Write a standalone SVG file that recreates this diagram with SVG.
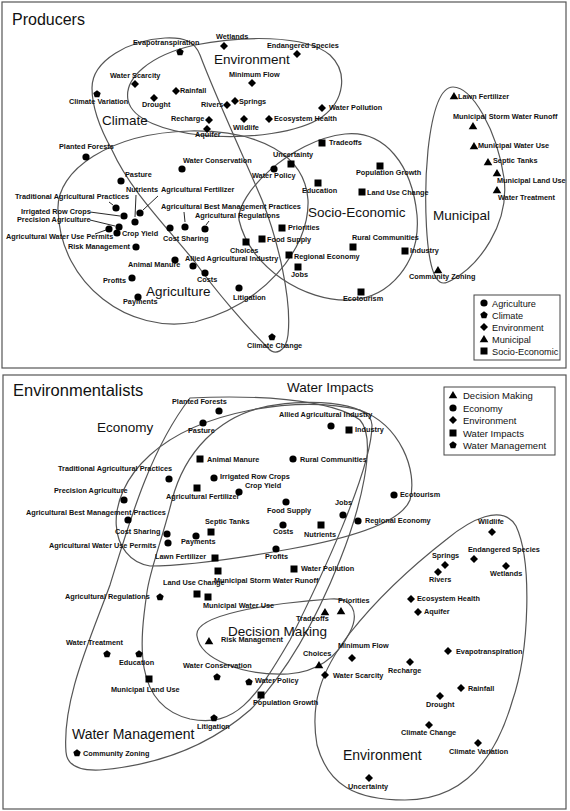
<svg xmlns="http://www.w3.org/2000/svg" xmlns:xlink="http://www.w3.org/1999/xlink" width="570" height="811" viewBox="0 0 570 811">
<style>
.lb{font-family:"Liberation Sans",Arial,sans-serif;font-size:7.3px;font-weight:bold;fill:#111}
.big{font-family:"Liberation Sans",Arial,sans-serif;font-size:13.5px;fill:#111}
.ttl{font-family:"Liberation Sans",Arial,sans-serif;font-size:16px;fill:#111}
.lg{font-family:"Liberation Sans",Arial,sans-serif;font-size:9.2px;fill:#111}
.cv{fill:none;stroke:#555;stroke-width:1.2}
.ld{stroke:#111;stroke-width:0.9}
.fr{fill:#fff;stroke:#555;stroke-width:1.2}
.mk{fill:#000}
</style>
<defs>
<circle id="c" class="mk" r="3.6"/>
<rect id="s" class="mk" x="-3.5" y="-3.5" width="7" height="7"/>
<polygon id="d" class="mk" points="0,-4 4,0 0,4 -4,0"/>
<polygon id="t" class="mk" points="0,-4 4.3,3.3 -4.3,3.3"/>
<polygon id="p" class="mk" points="0,-3.8 3.7,-1.1 2.3,3.2 -2.3,3.2 -3.7,-1.1"/>
</defs>
<rect x="0" y="0" width="570" height="811" fill="#fff"/>
<rect class="fr" x="2" y="2" width="564" height="366"/>
<rect class="fr" x="3" y="375" width="563" height="434"/>

<!-- ===== PRODUCERS ===== -->
<text class="ttl" x="12" y="25">Producers</text>
<g id="pr-outlines">
<path class="cv" d="M128,100 C124,78 150,55 195,45 C240,36 305,34 330,55 C348,72 345,100 322,117 C300,132 250,140 200,135 C165,131 132,120 128,100 Z"/>
<path class="cv" d="M92,88 C92,60 130,40 165,38 C185,37 195,42 200,55 C215,95 245,160 262,200 C278,240 292,300 288,335 C286,352 275,356 268,348 C245,325 215,290 195,262 C165,225 130,190 112,150 C98,125 92,105 92,88 Z"/>
<path class="cv" d="M58,210 C56,170 110,133 190,131 C260,130 305,155 308,200 C310,250 262,305 195,322 C130,335 60,285 58,210 Z"/>
<path class="cv" d="M239,220 C236,195 290,140 345,134 C385,130 412,165 417,215 C421,262 390,298 350,300 C305,302 250,268 239,220 Z"/>
<path class="cv" d="M440,282 C424,272 424,190 428,150 C433,105 442,87 453,87 C472,87 497,130 504,178 C510,225 478,266 452,280 C447,283 443,284 440,282 Z"/>
</g>
<g id="pr-connectors">
<line class="ld" x1="136" y1="195" x2="135" y2="217"/>
<line class="ld" x1="158" y1="196" x2="143" y2="210"/>
<line class="ld" x1="184" y1="212" x2="185" y2="222"/>
<line class="ld" x1="209" y1="221" x2="206" y2="225"/>
<line class="ld" x1="109" y1="202" x2="113" y2="205"/>
<line class="ld" x1="90" y1="212" x2="120" y2="216"/>
<line class="ld" x1="90" y1="220" x2="115" y2="226"/>
<line class="ld" x1="95" y1="234" x2="106" y2="230"/>
</g>
<text class="big" x="214" y="64">Environment</text>
<text class="big" x="102" y="125">Climate</text>
<text class="big" x="146" y="296">Agriculture</text>
<text class="big" x="308" y="217">Socio-Economic</text>
<text class="big" x="433" y="220">Municipal</text>

<g id="pr-evapotranspiration"><use xlink:href="#p" x="180" y="52"/><text class="lb" x="133" y="45">Evapotranspiration</text></g>
<g id="pr-wetlands"><use xlink:href="#d" x="224" y="46"/><text class="lb" x="216" y="39">Wetlands</text></g>
<g id="pr-endangered"><use xlink:href="#d" x="297" y="54"/><text class="lb" x="267" y="48">Endangered Species</text></g>
<g id="pr-waterscarcity"><use xlink:href="#d" x="135" y="84"/><text class="lb" x="110" y="78">Water Scarcity</text></g>
<g id="pr-climatevariation"><use xlink:href="#p" x="97" y="94"/><text class="lb" x="69" y="104">Climate Variation</text></g>
<g id="pr-rainfall"><use xlink:href="#d" x="176" y="91"/><text class="lb" x="180" y="93">Rainfall</text></g>
<g id="pr-drought"><use xlink:href="#d" x="154" y="98"/><text class="lb" x="142" y="107">Drought</text></g>
<g id="pr-minimumflow"><use xlink:href="#d" x="252" y="83"/><text class="lb" x="229" y="77">Minimum Flow</text></g>
<g id="pr-rivers"><use xlink:href="#d" x="227" y="105"/><text class="lb" x="201" y="107">Rivers</text></g>
<g id="pr-springs"><use xlink:href="#d" x="235" y="101"/><text class="lb" x="239" y="104">Springs</text></g>
<g id="pr-recharge"><use xlink:href="#d" x="209" y="120"/><text class="lb" x="171" y="121">Recharge</text></g>
<g id="pr-aquifer"><use xlink:href="#d" x="207" y="129"/><text class="lb" x="195" y="137">Aquifer</text></g>
<g id="pr-wildlife"><use xlink:href="#d" x="244" y="119"/><text class="lb" x="233" y="130">Wildlife</text></g>
<g id="pr-ecosystem"><use xlink:href="#d" x="269" y="119"/><text class="lb" x="274" y="121">Ecosystem Health</text></g>
<g id="pr-waterpollution"><use xlink:href="#d" x="322" y="108"/><text class="lb" x="329" y="110">Water Pollution</text></g>
<g id="pr-tradeoffs"><use xlink:href="#s" x="322" y="143"/><text class="lb" x="329" y="145">Tradeoffs</text></g>
<g id="pr-uncertainty"><use xlink:href="#s" x="291" y="164"/><text class="lb" x="273" y="157">Uncertainty</text></g>
<g id="pr-waterpolicy"><use xlink:href="#c" x="274" y="169"/><text class="lb" x="252" y="178">Water Policy</text></g>
<g id="pr-waterconservation"><use xlink:href="#c" x="182" y="169"/><text class="lb" x="183" y="163">Water Conservation</text></g>
<g id="pr-plantedforests"><use xlink:href="#c" x="86" y="157"/><text class="lb" x="59" y="149">Planted Forests</text></g>
<g id="pr-pasture"><use xlink:href="#c" x="121" y="181"/><text class="lb" x="125" y="177">Pasture</text></g>
<g id="pr-populationgrowth"><use xlink:href="#s" x="380" y="166"/><text class="lb" x="356" y="175">Population Growth</text></g>
<g id="pr-education"><use xlink:href="#s" x="318" y="183"/><text class="lb" x="302" y="193">Education</text></g>
<g id="pr-landusechange"><use xlink:href="#s" x="362" y="192"/><text class="lb" x="367" y="195">Land Use Change</text></g>
<g id="pr-lawnfertilizer"><use xlink:href="#t" x="454" y="96"/><text class="lb" x="458" y="99">Lawn Fertilizer</text></g>
<g id="pr-mswr"><use xlink:href="#t" x="473" y="126"/><text class="lb" x="453" y="119">Municipal Storm  Water Runoff</text></g>
<g id="pr-municipalwateruse"><use xlink:href="#t" x="474" y="146"/><text class="lb" x="478" y="148">Municipal Water Use</text></g>
<g id="pr-septictanks"><use xlink:href="#t" x="488" y="162"/><text class="lb" x="493" y="163">Septic Tanks</text></g>
<g id="pr-municipallanduse"><use xlink:href="#t" x="497" y="173"/><text class="lb" x="497" y="183">Municipal Land Use</text></g>
<g id="pr-watertreatment"><use xlink:href="#t" x="497" y="190"/><text class="lb" x="498" y="200">Water Treatment</text></g>
<g id="pr-nutrients"><use xlink:href="#c" x="135" y="222"/><text class="lb" x="126" y="192">Nutrients</text></g>
<g id="pr-agfertilizer"><use xlink:href="#c" x="140" y="213"/><text class="lb" x="161" y="192">Agricultural Fertilizer</text></g>
<g id="pr-abmp"><use xlink:href="#c" x="185" y="227"/><text class="lb" x="161" y="209">Agricultural Best Management Practices</text></g>
<g id="pr-agregulations"><use xlink:href="#c" x="205" y="229"/><text class="lb" x="195" y="218">Agricultural Regulations</text></g>
<g id="pr-tradag"><use xlink:href="#c" x="116" y="208"/><text class="lb" x="15" y="199">Traditional Agricultural Practices</text></g>
<g id="pr-irrigated"><use xlink:href="#c" x="124" y="216"/><text class="lb" x="21" y="214">Irrigated Row Crops</text></g>
<g id="pr-precision"><use xlink:href="#c" x="119" y="227"/><text class="lb" x="17" y="222">Precision Agriculture</text></g>
<g id="pr-awup"><use xlink:href="#c" x="109" y="229"/><text class="lb" x="6" y="239">Agricultural Water Use Permits</text></g>
<g id="pr-cropyield"><use xlink:href="#c" x="117" y="233"/><text class="lb" x="122" y="236">Crop Yield</text></g>
<g id="pr-riskmanagement"><use xlink:href="#c" x="136" y="247"/><text class="lb" x="68" y="249">Risk Management</text></g>
<g id="pr-costsharing"><use xlink:href="#c" x="170" y="228"/><text class="lb" x="163" y="241">Cost Sharing</text></g>
<g id="pr-animalmanure"><use xlink:href="#c" x="175" y="260"/><text class="lb" x="128" y="267">Animal Manure</text></g>
<g id="pr-profits"><use xlink:href="#c" x="132" y="278"/><text class="lb" x="103" y="283">Profits</text></g>
<g id="pr-payments"><use xlink:href="#c" x="138" y="297"/><text class="lb" x="123" y="304">Payments</text></g>
<g id="pr-priorities"><use xlink:href="#s" x="282" y="228"/><text class="lb" x="288" y="230">Priorities</text></g>
<g id="pr-foodsupply"><use xlink:href="#s" x="262" y="239"/><text class="lb" x="267" y="242">Food Supply</text></g>
<g id="pr-choices"><use xlink:href="#s" x="246" y="242"/><text class="lb" x="230" y="253">Choices</text></g>
<g id="pr-allied"><use xlink:href="#c" x="193" y="266"/><text class="lb" x="185" y="261">Allied Agricultural Industry</text></g>
<g id="pr-costs"><use xlink:href="#c" x="205" y="273"/><text class="lb" x="197" y="282">Costs</text></g>
<g id="pr-litigation"><use xlink:href="#c" x="239" y="288"/><text class="lb" x="233" y="300">Litigation</text></g>
<g id="pr-regionaleconomy"><use xlink:href="#s" x="289" y="255"/><text class="lb" x="294" y="259">Regional Economy</text></g>
<g id="pr-jobs"><use xlink:href="#s" x="298" y="267"/><text class="lb" x="291" y="277">Jobs</text></g>
<g id="pr-rural"><use xlink:href="#s" x="353" y="247"/><text class="lb" x="352" y="240">Rural Communities</text></g>
<g id="pr-ecotourism"><use xlink:href="#s" x="361" y="292"/><text class="lb" x="343" y="301">Ecotourism</text></g>
<g id="pr-climatechange"><use xlink:href="#p" x="272" y="337"/><text class="lb" x="247" y="348">Climate Change</text></g>
<g id="pr-industry"><use xlink:href="#s" x="405" y="251"/><text class="lb" x="410" y="253">Industry</text></g>
<g id="pr-communityzoning"><use xlink:href="#t" x="438" y="270"/><text class="lb" x="409" y="279">Community Zoning</text></g>

<g id="pr-legend">
<rect x="474" y="295" width="86" height="65" fill="#fff" stroke="#444" stroke-width="1"/>
<use xlink:href="#c" x="484" y="303"/><text class="lg" x="492" y="306.5">Agriculture</text>
<use xlink:href="#p" x="484" y="315"/><text class="lg" x="492" y="318.5">Climate</text>
<use xlink:href="#d" x="484" y="327"/><text class="lg" x="492" y="330.5">Environment</text>
<use xlink:href="#t" x="484" y="339"/><text class="lg" x="492" y="342.5">Municipal</text>
<use xlink:href="#s" x="484" y="351"/><text class="lg" x="492" y="354.5">Socio-Economic</text>
</g>

<!-- ===== ENVIRONMENTALISTS ===== -->
<text class="ttl" x="13" y="396" style="font-size:16.5px">Environmentalists</text>
<g id="en-outlines">
<path class="cv" d="M197,636 C193,615 265,604 330,599 C352,597 360,612 350,632 C338,656 318,672 288,674 C245,676 200,660 197,636 Z"/>
<path class="cv" d="M447,539 C470,520 502,503 516,526 C532,560 530,650 512,702 C495,760 462,800 405,800 C355,800 328,785 317,745 C310,705 320,672 350,633 C380,595 420,560 447,539 Z"/>
<path class="cv" d="M66,752 C62,700 90,640 110,585 C130,520 150,450 190,398 C250,395 330,398 360,420 C378,440 360,510 340,560 C320,610 290,670 250,710 C210,745 160,765 100,770 C78,771 67,765 66,752 Z"/>
<path class="cv" d="M147,592 C140,640 132,705 190,719 C235,728 255,700 290,640 C320,580 372,470 372,425 C372,400 300,398 260,408 C220,418 185,450 172,500 C162,540 150,570 147,592 Z"/>
<path class="cv" d="M150,566 C110,560 100,500 150,455 C200,410 300,395 360,410 C400,425 418,470 410,500 C400,525 340,540 290,549 C240,558 190,566 150,566 Z"/>
</g>
<text class="big" x="287" y="392">Water Impacts</text>
<text class="big" x="97" y="432">Economy</text>
<text class="big" x="228" y="636">Decision Making</text>
<text class="big" x="72" y="739" style="font-size:14px">Water Management</text>
<text class="big" x="343" y="760" style="font-size:14px">Environment</text>

<g id="en-plantedforests"><use xlink:href="#c" x="219" y="411"/><text class="lb" x="172" y="404">Planted Forests</text></g>
<g id="en-pasture"><use xlink:href="#c" x="203" y="423"/><text class="lb" x="188" y="433">Pasture</text></g>
<g id="en-allied"><use xlink:href="#c" x="331" y="426"/><text class="lb" x="279" y="417">Allied Agricultural Industry</text></g>
<g id="en-industry"><use xlink:href="#s" x="349" y="430"/><text class="lb" x="355" y="432">Industry</text></g>
<g id="en-animalmanure"><use xlink:href="#s" x="200" y="459"/><text class="lb" x="207" y="462">Animal Manure</text></g>
<g id="en-rural"><use xlink:href="#c" x="293" y="459"/><text class="lb" x="300" y="462">Rural Communities</text></g>
<g id="en-tradag"><use xlink:href="#c" x="169" y="479"/><text class="lb" x="58" y="471">Traditional Agricultural Practices</text></g>
<g id="en-irrigated"><use xlink:href="#c" x="214" y="478"/><text class="lb" x="220" y="479">Irrigated Row Crops</text></g>
<g id="en-cropyield"><use xlink:href="#c" x="239" y="492"/><text class="lb" x="245" y="488">Crop Yield</text></g>
<g id="en-agfertilizer"><use xlink:href="#s" x="197" y="488"/><text class="lb" x="166" y="499">Agricultural Fertilizer</text></g>
<g id="en-precision"><use xlink:href="#c" x="124" y="500"/><text class="lb" x="54" y="493">Precision Agriculture</text></g>
<g id="en-foodsupply"><use xlink:href="#c" x="286" y="502"/><text class="lb" x="267" y="513">Food Supply</text></g>
<g id="en-jobs"><use xlink:href="#c" x="343" y="515"/><text class="lb" x="335" y="505">Jobs</text></g>
<g id="en-regionaleconomy"><use xlink:href="#c" x="358" y="521"/><text class="lb" x="365" y="523">Regional Economy</text></g>
<g id="en-ecotourism"><use xlink:href="#c" x="394" y="495"/><text class="lb" x="400" y="497">Ecotourism</text></g>
<g id="en-abmp"><use xlink:href="#c" x="128" y="520"/><text class="lb" x="26" y="515">Agricultural Best Management Practices</text></g>
<g id="en-septictanks"><use xlink:href="#s" x="211" y="532"/><text class="lb" x="205" y="524">Septic Tanks</text></g>
<g id="en-costs"><use xlink:href="#c" x="283" y="525"/><text class="lb" x="273" y="534">Costs</text></g>
<g id="en-nutrients"><use xlink:href="#s" x="321" y="525"/><text class="lb" x="304" y="537">Nutrients</text></g>
<g id="en-costsharing"><use xlink:href="#c" x="167" y="534"/><text class="lb" x="115" y="534">Cost Sharing</text></g>
<g id="en-payments"><use xlink:href="#c" x="196" y="536"/><text class="lb" x="181" y="544">Payments</text></g>
<g id="en-awup"><use xlink:href="#c" x="168" y="543"/><text class="lb" x="49" y="548">Agricultural Water Use Permits</text></g>
<g id="en-profits"><use xlink:href="#c" x="276" y="549"/><text class="lb" x="265" y="559">Profits</text></g>
<g id="en-lawnfertilizer"><use xlink:href="#s" x="215" y="558"/><text class="lb" x="155" y="559">Lawn Fertilizer</text></g>
<g id="en-waterpollution"><use xlink:href="#s" x="294" y="569"/><text class="lb" x="301" y="571">Water Pollution</text></g>
<g id="en-mswr"><use xlink:href="#s" x="218" y="571"/><text class="lb" x="214" y="583">Municipal Storm  Water Runoff</text></g>
<g id="en-landusechange"><use xlink:href="#s" x="197" y="594"/><text class="lb" x="163" y="585">Land Use Change</text></g>
<g id="en-municipalwateruse"><use xlink:href="#s" x="208" y="597"/><text class="lb" x="203" y="608">Municipal Water Use</text></g>
<g id="en-agregulations"><use xlink:href="#p" x="160" y="597"/><text class="lb" x="65" y="599">Agricultural Regulations</text></g>
<g id="en-priorities"><use xlink:href="#t" x="341" y="611"/><text class="lb" x="338" y="603">Priorities</text></g>
<g id="en-tradeoffs"><use xlink:href="#t" x="325" y="612"/><text class="lb" x="296" y="621">Tradeoffs</text></g>
<g id="en-riskmanagement"><use xlink:href="#t" x="209" y="641"/><text class="lb" x="221" y="642">Risk Management</text></g>
<g id="en-choices"><use xlink:href="#t" x="319" y="665"/><text class="lb" x="303" y="656">Choices</text></g>
<g id="en-minimumflow"><use xlink:href="#d" x="352" y="658"/><text class="lb" x="338" y="648">Minimum Flow</text></g>
<g id="en-waterscarcity"><use xlink:href="#d" x="325" y="675"/><text class="lb" x="333" y="678">Water Scarcity</text></g>
<g id="en-watertreatment"><use xlink:href="#p" x="107" y="654"/><text class="lb" x="66" y="645">Water Treatment</text></g>
<g id="en-education"><use xlink:href="#p" x="139" y="654"/><text class="lb" x="119" y="665">Education</text></g>
<g id="en-waterconservation"><use xlink:href="#p" x="217" y="677"/><text class="lb" x="183" y="668">Water Conservation</text></g>
<g id="en-waterpolicy"><use xlink:href="#p" x="249" y="682"/><text class="lb" x="255" y="683">Water Policy</text></g>
<g id="en-municipallanduse"><use xlink:href="#s" x="149" y="679"/><text class="lb" x="111" y="692">Municipal Land Use</text></g>
<g id="en-populationgrowth"><use xlink:href="#s" x="261" y="695"/><text class="lb" x="253" y="705">Population Growth</text></g>
<g id="en-litigation"><use xlink:href="#p" x="214" y="718"/><text class="lb" x="197" y="729">Litigation</text></g>
<g id="en-communityzoning"><use xlink:href="#p" x="77" y="753"/><text class="lb" x="83" y="756">Community Zoning</text></g>
<g id="en-uncertainty"><use xlink:href="#d" x="369" y="778"/><text class="lb" x="348" y="789">Uncertainty</text></g>
<g id="en-wildlife"><use xlink:href="#d" x="492" y="532"/><text class="lb" x="478" y="524">Wildlife</text></g>
<g id="en-endangered"><use xlink:href="#d" x="474" y="559"/><text class="lb" x="468" y="552">Endangered Species</text></g>
<g id="en-springs"><use xlink:href="#d" x="445" y="565"/><text class="lb" x="432" y="558">Springs</text></g>
<g id="en-wetlands"><use xlink:href="#d" x="506" y="566"/><text class="lb" x="490" y="576">Wetlands</text></g>
<g id="en-rivers"><use xlink:href="#d" x="438" y="572"/><text class="lb" x="429" y="582">Rivers</text></g>
<g id="en-ecosystem"><use xlink:href="#d" x="411" y="599"/><text class="lb" x="417" y="601">Ecosystem Health</text></g>
<g id="en-aquifer"><use xlink:href="#d" x="418" y="612"/><text class="lb" x="424" y="614">Aquifer</text></g>
<g id="en-evapotranspiration"><use xlink:href="#d" x="448" y="651"/><text class="lb" x="456" y="654">Evapotranspiration</text></g>
<g id="en-recharge"><use xlink:href="#d" x="410" y="662"/><text class="lb" x="388" y="673">Recharge</text></g>
<g id="en-rainfall"><use xlink:href="#d" x="461" y="688"/><text class="lb" x="468" y="691">Rainfall</text></g>
<g id="en-drought"><use xlink:href="#d" x="440" y="696"/><text class="lb" x="426" y="707">Drought</text></g>
<g id="en-climatechange"><use xlink:href="#d" x="429" y="725"/><text class="lb" x="401" y="735">Climate Change</text></g>
<g id="en-climatevariation"><use xlink:href="#d" x="478" y="743"/><text class="lb" x="449" y="754">Climate Variation</text></g>

<g id="en-legend">
<rect x="444" y="387" width="111" height="68" fill="#fff" stroke="#444" stroke-width="1"/>
<use xlink:href="#t" x="453" y="395"/><text class="lg" x="463" y="398.5" style="font-size:9.5px">Decision Making</text>
<use xlink:href="#c" x="453" y="408"/><text class="lg" x="463" y="411.5" style="font-size:9.5px">Economy</text>
<use xlink:href="#d" x="453" y="420"/><text class="lg" x="463" y="423.5" style="font-size:9.5px">Environment</text>
<use xlink:href="#s" x="453" y="433"/><text class="lg" x="463" y="436.5" style="font-size:9.5px">Water Impacts</text>
<use xlink:href="#p" x="453" y="445"/><text class="lg" x="463" y="448.5" style="font-size:9.5px">Water Management</text>
</g>
</svg>
